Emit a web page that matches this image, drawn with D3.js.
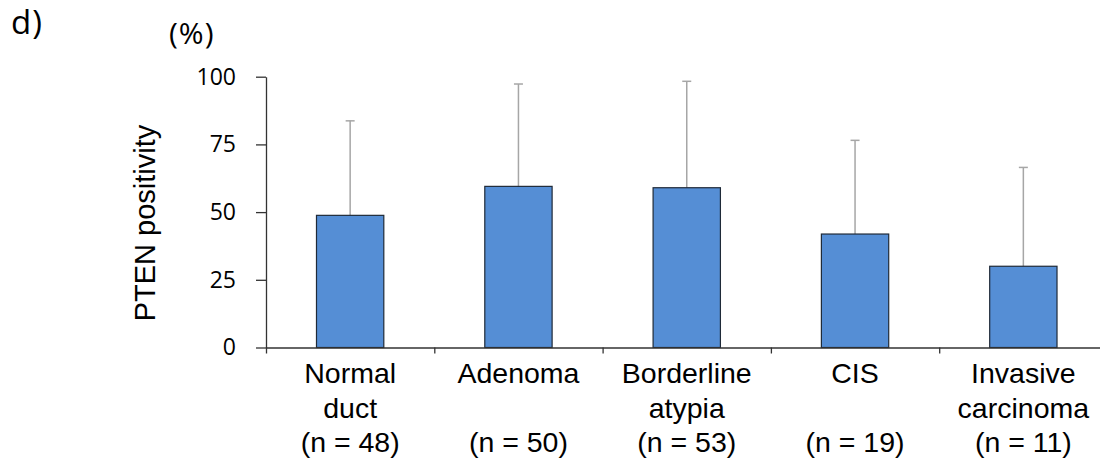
<!DOCTYPE html>
<html>
<head>
<meta charset="utf-8">
<script src="https://cdn.jsdelivr.net/npm/d3@7"></script>
<style>
  body { margin: 0; background: #fff; }
</style>
</head>
<body>
<div id="chart-area"></div>
<script>
// data
var categories = [["Normal", "duct", "(n = 48)"],
                  ["Adenoma", "", "(n = 50)"],
                  ["Borderline", "atypia", "(n = 53)"],
                  ["CIS", "", "(n = 19)"],
                  ["Invasive", "carcinoma", "(n = 11)"]];
var means = [48.8, 59.5, 59.0, 41.9, 30.0];
var sds = [34.9, 37.8, 39.3, 34.6, 36.5];
var yTicks = [0, 25, 50, 75, 100];

var width = 1100, height = 461;
var plotLeft = 266, plotRight = 1107.5, plotTop = 76.7, plotBottom = 347.5;

var svg = d3.select("#chart-area")
  .append("svg")
    .attr("width", width)
    .attr("height", height);

var idx = d3.range(categories.length);

var x = d3.scaleBand()
    .domain(idx)
    .range([plotLeft, plotRight])
    .paddingInner(0.6)
    .paddingOuter(0.3);

// category edges for the x ticks
var xEdge = d3.scaleLinear()
    .domain([0, categories.length])
    .range([plotLeft, plotRight]);

var y = d3.scaleLinear()
    .domain([0, 100])
    .range([plotBottom, plotTop]);

// y axis
var yAxis = svg.append("g")
    .attr("transform", "translate(" + plotLeft + ",0)")
    .call(d3.axisLeft(y).tickValues(yTicks).tickSize(10).tickSizeOuter(0).tickPadding(20));
yAxis.select(".domain").attr("stroke", "#333").attr("stroke-width", 1.3);
yAxis.selectAll(".tick line").attr("stroke", "#333").attr("stroke-width", 1.3);
yAxis.selectAll("text")
    .style("font-family", "'Open Sans'")
    .style("font-size", "23px")
    .attr("fill", "#000");

// error bars (upper only)
var err = svg.append("g");
err.selectAll("line.err")
  .data(idx)
  .enter()
  .append("line")
    .attr("x1", function(i) { return x(i) + x.bandwidth() / 2; })
    .attr("x2", function(i) { return x(i) + x.bandwidth() / 2; })
    .attr("y1", function(i) { return y(means[i]); })
    .attr("y2", function(i) { return y(means[i] + sds[i]); })
    .attr("stroke", "#a6a6a6")
    .attr("stroke-width", 1.5);
err.selectAll("line.cap")
  .data(idx)
  .enter()
  .append("line")
    .attr("x1", function(i) { return x(i) + x.bandwidth() / 2 - 4.5; })
    .attr("x2", function(i) { return x(i) + x.bandwidth() / 2 + 4.5; })
    .attr("y1", function(i) { return y(means[i] + sds[i]); })
    .attr("y2", function(i) { return y(means[i] + sds[i]); })
    .attr("stroke", "#a6a6a6")
    .attr("stroke-width", 1.5);

// bars
svg.append("g")
  .selectAll("rect")
  .data(idx)
  .enter()
  .append("rect")
    .attr("x", function(i) { return x(i); })
    .attr("y", function(i) { return y(means[i]); })
    .attr("width", x.bandwidth())
    .attr("height", function(i) { return y(0) - y(means[i]); })
    .attr("fill", "#558ed5")
    .attr("stroke", "#1f2a38")
    .attr("stroke-width", 1.2);

// x axis
var xAxis = svg.append("g")
    .attr("transform", "translate(0," + plotBottom + ")")
    .call(d3.axisBottom(xEdge).tickValues(d3.range(categories.length + 1)).tickSize(6).tickSizeOuter(0).tickFormat(""));
xAxis.select(".domain").attr("stroke", "#333").attr("stroke-width", 1.3);
xAxis.selectAll(".tick line").attr("stroke", "#333").attr("stroke-width", 1.3);

// category labels
var lineY = [383, 418, 452];
var labels = svg.append("g");
idx.forEach(function(i) {
  categories[i].forEach(function(t, k) {
    if (!t) return;
    labels.append("text")
      .attr("x", x(i) + x.bandwidth() / 2)
      .attr("y", lineY[k])
      .attr("text-anchor", "middle")
      .style("font-family", "'Liberation Sans', Arial")
      .style("font-size", "28.5px")
      .text(t);
  });
});

// y axis label
svg.append("text")
    .attr("transform", "translate(155,223) rotate(-90)")
    .attr("text-anchor", "middle")
    .style("font-family", "'Liberation Sans', Arial")
    .style("font-size", "29px")
    .text("PTEN positivity");

svg.append("text")
    .attr("x", 169)
    .attr("y", 44)
    .style("font-family", "'Open Sans'")
    .style("font-size", "30px")
    .style("letter-spacing", "1px")
    .text("(%)");

svg.append("text")
    .attr("x", 11)
    .attr("y", 34)
    .style("font-family", "'Open Sans'")
    .style("font-size", "33px")
    .style("letter-spacing", "1px")
    .text("d)");
</script>
</body>
</html>
